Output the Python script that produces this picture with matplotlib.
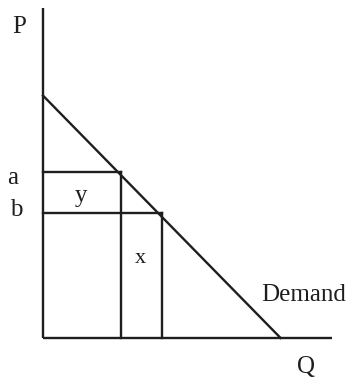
import matplotlib
matplotlib.use('Agg')
import matplotlib.pyplot as plt

# demand curve end points (Q, P)
demand_q = [0.0, 9.9]
demand_p = [10.1, 0.0]

# the two price levels and the quantities where they meet demand
price_a = 6.9
price_b = 5.2
qty_a = 3.25
qty_b = 4.95

axis_q_max = 12.05
axis_p_max = 13.75

ink = '#1e1e1e'
lw = 1.7

fig = plt.figure(figsize=(3.6, 3.77), dpi=100)
ax = fig.add_axes([0, 0, 1, 1])
ax.set_xlim(-43 / 24, 317 / 24)
ax.set_ylim(-39 / 24, 338 / 24)
ax.axis('off')

# axes
ax.plot([0, 0], [0, axis_p_max], color=ink, lw=lw, solid_capstyle='butt')
ax.plot([0, axis_q_max], [0, 0], color=ink, lw=lw, solid_capstyle='butt')

# demand
ax.plot(demand_q, demand_p, color=ink, lw=lw)

# price lines and the boxes under them
ax.plot([0, qty_a], [price_a, price_a], color=ink, lw=lw)
ax.plot([0, qty_b], [price_b, price_b], color=ink, lw=lw)
ax.plot([qty_a, qty_a], [0, price_a], color=ink, lw=lw)
ax.plot([qty_b, qty_b], [0, price_b], color=ink, lw=lw)

font = dict(family='Liberation Serif', color=ink)
ax.text(-1.0, 12.96, 'P', fontsize=18, ha='center', va='center', **font)
ax.text(10.96, -1.21, 'Q', fontsize=18, ha='center', va='center', **font)
ax.text(-1.25, 6.67, 'a', fontsize=18, ha='center', va='center', **font)
ax.text(-1.1, 5.35, 'b', fontsize=18, ha='center', va='center', **font)
ax.text(1.6, 5.9, 'y', fontsize=18, ha='center', va='center', **font)
ax.text(4.05, 3.3, 'x', fontsize=16, ha='center', va='center', **font)
ax.text(9.1, 1.79, 'Demand', fontsize=18, ha='left', va='center', **font)

fig.savefig('out.png', dpi=100)
